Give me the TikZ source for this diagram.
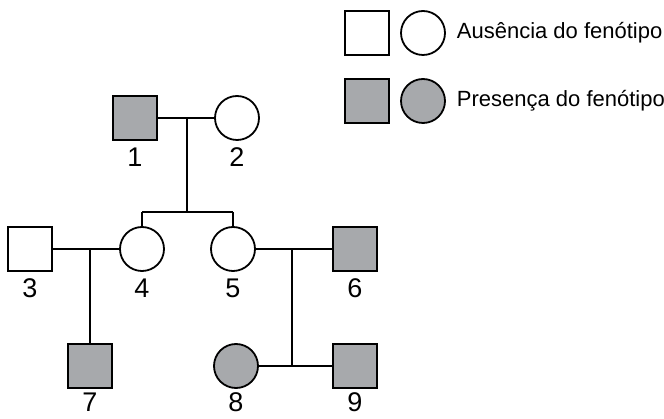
\documentclass[tikz,border=0pt]{standalone}
\usepackage{fontspec}
\setmainfont{Liberation Sans}
\definecolor{affgray}{RGB}{167,169,172}
\tikzset{
    male/.style={draw,rectangle,minimum size=44pt,inner sep=0pt},
    female/.style={draw,circle,minimum size=44pt,inner sep=0pt},
    affected/.style={fill=affgray},
    lbl/.style={font=\fontsize{27}{27}\selectfont,inner sep=0pt,label distance=6pt},
    lbllow/.style={lbl,label distance=3pt},
}
\begin{document}
\begin{tikzpicture}[x=1pt,y=-1pt,line width=1.8pt]
\useasboundingbox (0,0) rectangle (664,419);
% generation I
\node[male,affected,label={[lbl]below:1}] (n1) at (135,118) {};
\node[female,label={[lbl]below:2}] (n2) at (237,118) {};
% generation II
\node[male,label={[lbl]below:3}] (n3) at (30,249) {};
\node[female,label={[lbl]below:4}] (n4) at (142,249) {};
\node[female,label={[lbl]below:5}] (n5) at (233,249) {};
\node[male,affected,label={[lbl]below:6}] (n6) at (355,249) {};
% generation III
\node[male,affected,label={[lbllow]below:7}] (n7) at (90,366) {};
\node[female,affected,label={[lbllow]below:8}] (n8) at (236,366) {};
\node[male,affected,label={[lbllow]below:9}] (n9) at (355,366) {};
\coordinate (m12) at (187,118);
\coordinate (s1) at (187,212);
\coordinate (s4) at (142,212);
\coordinate (s5) at (233,212);
\coordinate (m34) at (90,249);
\coordinate (m56) at (292,249);
\coordinate (c89) at (292,366);
\draw (n1) -- (n2);
\draw (m12) -- (s1);
\draw (s4) -- (s5);
\draw (s4) -- (n4);
\draw (s5) -- (n5);
\draw (n3) -- (n4);
\draw (m34) -- (n7);
\draw (n5) -- (n6);
\draw (m56) -- (c89);
\draw (n8) -- (n9);
% legend
\foreach \txt [count=\i, evaluate=\i as \y using 33+68*(\i-1)] in {Ausência do fenótipo,Presença do fenótipo}
{
\ifnum\i=1
\node[male] (leg\i m) at (367,\y) {};
\node[female] (leg\i f) at (423,\y) {};
\else
\node[male,affected] (leg\i m) at (367,\y) {};
\node[female,affected] (leg\i f) at (423,\y) {};
\fi
\node[anchor=west,font=\fontsize{22}{22}\selectfont,inner sep=0pt] (leg\i t) at (456,\y) {\txt};
}
\end{tikzpicture}
\end{document}
